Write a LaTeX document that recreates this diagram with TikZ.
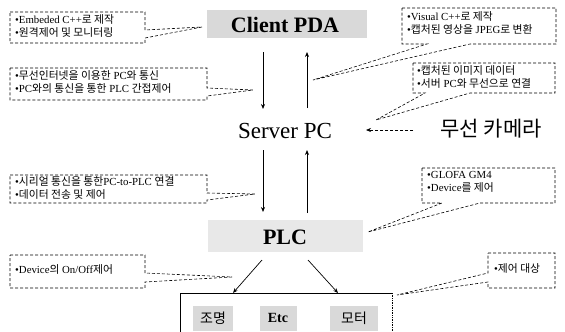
\documentclass[tikz,border=0pt]{standalone}
\usepackage{fontspec}
\setmainfont{Liberation Serif}
\newfontfamily\krfont{Noto Sans CJK KR}
\newcommand{\kr}[1]{{\krfont #1}}
\usetikzlibrary{arrows.meta}
\begin{document}
\begin{tikzpicture}[x=1pt,y=-1pt,
  callout/.style={draw=black, densely dashed, line width=0.6pt},
  ctext/.style={anchor=north west, align=left, inner sep=0pt,
     font=\fontsize{10.8}{13.5}\selectfont},
  graybox/.style={fill=gray!30, inner sep=0pt},
  arr/.style={-{Stealth[length=5pt,width=4pt]}, line width=0.7pt},
  big/.style={font=\fontsize{22}{24}\selectfont}]
\useasboundingbox (0,0) rectangle (565,332);

% main nodes
\node[graybox, minimum width=160pt, minimum height=28pt] (client) at (287,24) {};
\node[big, font=\fontsize{22}{24}\selectfont\bfseries] (clientt) at (285,25) {Client PDA};
\node[font=\fontsize{23}{25}\selectfont] (server) at (285,131) {Server PC};
\node[graybox, fill=gray!18, minimum width=155pt, minimum height=32pt] (plc) at (285,236) {};
\node[font=\fontsize{22}{24}\selectfont\bfseries] (plct) at (285,237) {PLC};
\node[font=\fontsize{21}{23}\selectfont\krfont] (cam) at (491,129) {무선 카메라};

% arrow end coordinates
\coordinate (c1) at (263,52);  \coordinate (s1) at (263,109);
\coordinate (s2) at (307,108); \coordinate (c2) at (307,52);
\coordinate (s3) at (263,150); \coordinate (p1) at (263,212);
\coordinate (p2) at (307,213); \coordinate (s4) at (307,150);
\coordinate (camtail) at (413,130); \coordinate (camhead) at (366,130);
\coordinate (pl) at (262,260); \coordinate (pr) at (308,260);
\coordinate (d1) at (233,293); \coordinate (d2) at (338,293);

\draw[arr] (c1) -- (s1);
\draw[arr] (s2) -- (c2);
\draw[arr] (s3) -- (p1);
\draw[arr] (p2) -- (s4);
\draw[arr, densely dashed, line width=0.6pt] (camtail) -- (camhead);
\draw[arr] (pl) -- (d1);
\draw[arr] (pr) -- (d2);

% bottom device box
\draw[line width=0.7pt] (180,332) -- (180,293) -- (392,293);
\draw[densely dotted, line width=0.7pt] (392,293) -- (392,332);
\node[graybox, minimum width=40pt, minimum height=25pt, font=\fontsize{14}{16}\selectfont\krfont] (light) at (213,318) {조명};
\node[graybox, minimum width=37pt, minimum height=25pt, font=\fontsize{14}{16}\selectfont\bfseries] (etc) at (278,318) {Etc};
\node[graybox, minimum width=48pt, minimum height=25pt, font=\fontsize{14}{16}\selectfont\krfont] (motor) at (354,318) {모터};

% callouts
\draw[callout] (10,12) -- (145,12) -- (145,30) -- (202,27) -- (145,38) -- (145,43) -- (10,43) -- cycle;
\node[ctext] (t1) at (15,14) {•Embeded C++\kr{로 제작}\\•\kr{원격제어 및 모니터링}};

\draw[callout] (402,8) -- (556,8) -- (556,44) -- (470,44) -- (313,80) -- (427,44) -- (402,44) -- cycle;
\node[ctext] (t2) at (407,11) {•Visual C++\kr{로 제작}\\•\kr{캡처된 영상을} JPEG\kr{로 변환}};

\draw[callout] (10,68) -- (207,68) -- (207,88) -- (253,90) -- (207,96) -- (207,100) -- (10,100) -- cycle;
\node[ctext] (t3) at (15,70) {•\kr{무선인터넷을 이용한} PC\kr{와 통신}\\•PC\kr{와의 통신을 통한} PLC \kr{간접제어}};

\draw[callout] (413,63) -- (555,63) -- (555,93) -- (470,93) -- (376,120) -- (425,93) -- (413,93) -- cycle;
\node[ctext] (t4) at (417,65) {•\kr{캡처된 이미지 데이터}\\•\kr{서버} PC\kr{와 무선으로 연결}};

\draw[callout] (10,175) -- (207,175) -- (207,193) -- (255,194) -- (207,200) -- (207,203) -- (10,203) -- cycle;
\node[ctext] (t5) at (15,176) {•\kr{시리얼 통신을 통한}PC-to-PLC \kr{연결}\\•\kr{데이터 전송 및 제어}};

\draw[callout] (422,168) -- (555,168) -- (555,203) -- (480,203) -- (368,232) -- (442,203) -- (422,203) -- cycle;
\node[ctext] (t6) at (427,171) {•GLOFA GM4\\•Device\kr{를 제어}};

\draw[callout] (10,255) -- (145,255) -- (145,273) -- (232,277) -- (145,282) -- (145,288) -- (10,288) -- cycle;
\node[ctext] (t7) at (15,264) {•Device\kr{의} On/Off\kr{제어}};

\draw[callout] (488,253) -- (555,253) -- (555,288) -- (488,288) -- (488,282) -- (397,295) -- (488,273) -- cycle;
\node[ctext] (t8) at (494,263) {•\kr{제어 대상}};
\end{tikzpicture}
\end{document}
